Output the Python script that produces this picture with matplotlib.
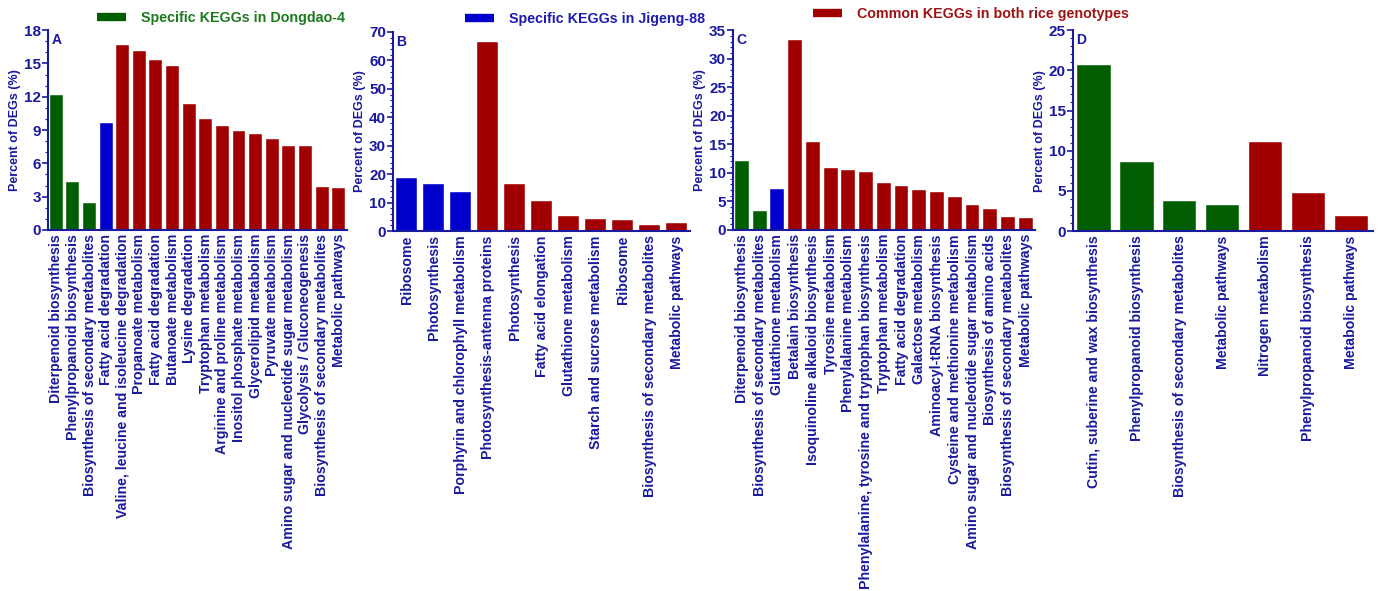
import matplotlib
matplotlib.use("Agg")
import matplotlib.pyplot as plt
from matplotlib.lines import Line2D
from matplotlib.ticker import MultipleLocator

# ---- data ----
labels_a = ["Diterpenoid biosynthesis", "Phenylpropanoid biosynthesis",
            "Biosynthesis of secondary metabolites", "Fatty acid degradation",
            "Valine, leucine and isoleucine degradation", "Propanoate metabolism",
            "Fatty acid degradation", "Butanoate metabolism", "Lysine degradation",
            "Tryptophan metabolism", "Arginine and proline metabolism",
            "Inositol phosphate metabolism", "Glycerolipid metabolism",
            "Pyruvate metabolism", "Amino sugar and nucleotide sugar metabolism",
            "Glycolysis / Gluconeogenesis", "Biosynthesis of secondary metabolites",
            "Metabolic pathways"]
values_a = [12.15, 4.3, 2.4, 9.6, 16.65, 16.1, 15.35, 14.75, 11.3, 10.0, 9.35,
            8.95, 8.6, 8.2, 7.6, 7.55, 3.9, 3.75]
groups_a = ["g", "g", "g", "b"] + ["r"] * 14

labels_b = ["Ribosome", "Photosynthesis", "Porphyrin and chlorophyll metabolism",
            "Photosynthesis-antenna proteins", "Photosynthesis", "Fatty acid elongation",
            "Glutathione metabolism", "Starch and sucrose metabolism", "Ribosome",
            "Biosynthesis of secondary metabolites", "Metabolic pathways"]
values_b = [18.7, 16.45, 13.8, 66.6, 16.45, 10.6, 5.4, 4.2, 3.85, 2.1, 2.7]
groups_b = ["b", "b", "b"] + ["r"] * 8

labels_c = ["Diterpenoid biosynthesis", "Biosynthesis of secondary metabolites",
            "Glutathione metabolism", "Betalain biosynthesis",
            "Isoquinoline alkaloid biosynthesis", "Tyrosine metabolism",
            "Phenylalanine metabolism",
            "Phenylalanine, tyrosine and tryptophan biosynthesis",
            "Tryptophan metabolism", "Fatty acid degradation", "Galactose metabolism",
            "Aminoacyl-tRNA biosynthesis", "Cysteine and methionine metabolism",
            "Amino sugar and nucleotide sugar metabolism",
            "Biosynthesis of amino acids", "Biosynthesis of secondary metabolites",
            "Metabolic pathways"]
values_c = [12.1, 3.3, 7.1, 33.25, 15.35, 10.8, 10.55, 10.1, 8.3, 7.65, 7.05,
            6.6, 5.85, 4.4, 3.6, 2.2, 2.05]
groups_c = ["g", "g", "b"] + ["r"] * 14

labels_d = ["Cutin, suberine and wax biosynthesis", "Phenylpropanoid biosynthesis",
            "Biosynthesis of secondary metabolites", "Metabolic pathways",
            "Nitrogen metabolism", "Phenylpropanoid biosynthesis", "Metabolic pathways"]
values_d = [20.65, 8.6, 3.8, 3.25, 11.1, 4.75, 1.9]
groups_d = ["g", "g", "g", "g", "r", "r", "r"]

legend_labels = ["Specific KEGGs in Dongdao-4", "Specific KEGGs in Jigeng-88",
                 "Common KEGGs in both rice genotypes"]

# ---- style ----
plt.rcParams.update({
    'font.family': ['Liberation Sans', 'DejaVu Sans'],
    'font.weight': 'bold',
})
navy = '#1a1a9e'
bar_colors = {'g': '#005e00', 'b': '#0000cc', 'r': '#a10000'}
text_colors = {'g': '#1d7a1d', 'b': '#1c1cb0', 'r': '#9e1414'}

fig = plt.figure(figsize=(13.84, 5.91), dpi=100)

panels = [
    ('A', labels_a, values_a, groups_a, [0.0347, 0.611, 0.216, 0.338], 18, 3, 1),
    ('B', labels_b, values_b, groups_b, [0.284, 0.609, 0.2146, 0.337], 70, 10, 2),
    ('C', labels_c, values_c, groups_c, [0.5296, 0.611, 0.218, 0.338], 35, 5, 1),
    ('D', labels_d, values_d, groups_d, [0.775, 0.609, 0.2168, 0.340], 25, 5, 1),
]

for letter, labels, values, groups, rect, ymax, major, minor in panels:
    ax = fig.add_axes(rect)
    x = range(len(values))
    ax.bar(x, values, width=0.78, color=[bar_colors[g] for g in groups],
           edgecolor='white', linewidth=0.3)
    ax.set_xlim(-0.5, len(values) - 0.5)
    ax.set_ylim(0, ymax)
    ax.yaxis.set_major_locator(MultipleLocator(major))
    ax.yaxis.set_minor_locator(MultipleLocator(minor))
    ax.set_xticks(list(x))
    ax.set_xticklabels(labels, rotation=90, fontsize=10.2, color=navy, fontweight='bold')
    ax.tick_params(axis='x', length=0, pad=3)
    ax.tick_params(axis='y', which='major', length=4, width=1.2, color=navy,
                   labelcolor=navy, labelsize=11, pad=1)
    ax.tick_params(axis='y', which='minor', length=2, width=0.8, color=navy)
    for s in ('top', 'right'):
        ax.spines[s].set_visible(False)
    for s in ('left', 'bottom'):
        ax.spines[s].set_color(navy)
        ax.spines[s].set_linewidth(1.5)
    ax.set_ylabel('Percent of DEGs (%)', fontsize=9, color=navy, fontweight='bold',
                  labelpad=2)
    ax.text(0.012, 0.985, letter, transform=ax.transAxes, ha='left', va='top',
            fontsize=10, color=navy, fontweight='bold')

# legends above the panels
legend_spots = [(0.070, 0.969, 'g'), (0.336, 0.968, 'b'), (0.5875, 0.976, 'r')]
for lab, (lx, ly, g) in zip(legend_labels, legend_spots):
    h = Line2D([], [], color=bar_colors[g], lw=6, solid_capstyle='butt')
    leg = fig.legend(handles=[h], labels=[lab], loc='center left',
                     bbox_to_anchor=(lx, ly), frameon=False, borderpad=0,
                     borderaxespad=0, handlelength=2.05, handletextpad=1.05,
                     prop={'size': 10.3, 'weight': 'bold'})
    for t in leg.get_texts():
        t.set_color(text_colors[g])

fig.savefig('out.png', dpi=100)
